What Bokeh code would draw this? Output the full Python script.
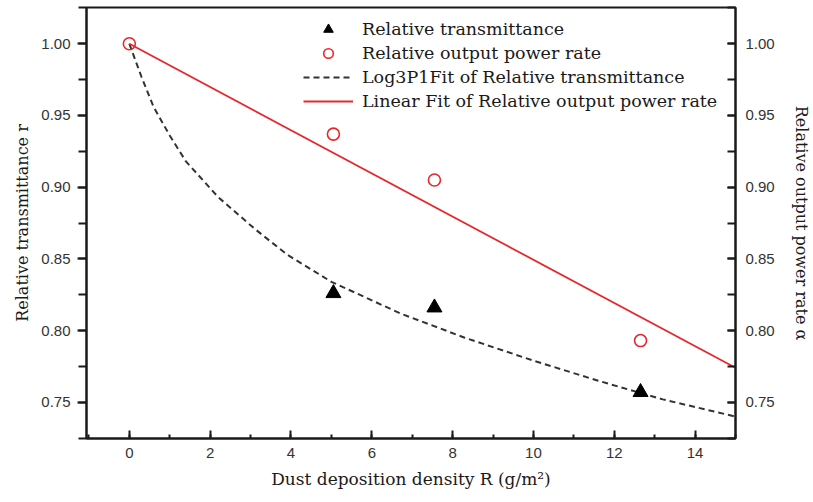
from bokeh.plotting import figure
from bokeh.models import (Range1d, LinearAxis, SingleIntervalTicker, PrintfTickFormatter,
                          Legend, LegendItem)
from bokeh.embed import file_html
from bokeh.resources import INLINE

# --- data ---
trans_density = [5.05, 7.55, 12.65]
rel_transmittance = [0.826, 0.816, 0.757]
power_density = [0.0, 5.05, 7.55, 12.65]
rel_output_power = [1.000, 0.937, 0.905, 0.793]

log_fit_x = [0.0, 0.3, 0.6, 1.0, 1.4, 2.2, 3.1, 3.9, 5.0, 6.7, 8.3, 10.0, 11.6, 13.2, 15.0]
log_fit_y = [1.000, 0.977, 0.956, 0.936, 0.918, 0.893, 0.871, 0.853, 0.834, 0.812, 0.795,
             0.779, 0.765, 0.752, 0.740]

lin_fit_x = [0.0, 15.0]
lin_fit_y = [1.000, 0.774]

legend_labels = ["Relative transmittance", "Relative output power rate",
                 "Log3P1Fit of Relative transmittance",
                 "Linear Fit of Relative output power rate"]

x_title = "Dust deposition density R (g/m\u00b2)"
y_left_title = "Relative transmittance r"
y_right_title = "Relative output power rate \u03b1"

RED = "#e8262b"
DARK = "#1a1a1a"
SERIF = "DejaVu Serif"
SANS = "Liberation Sans"

p = figure(width=813, height=502, x_range=Range1d(-1.06, 15.0), y_range=Range1d(0.7247, 1.0253),
           min_border_left=86, min_border_right=76, min_border_top=7, min_border_bottom=64,
           output_backend="svg", toolbar_location=None)
p.extra_y_ranges = {"right": Range1d(0.7247, 1.0253)}
p.xgrid.visible = False
p.ygrid.visible = False
p.outline_line_color = DARK
p.outline_line_width = 2
p.background_fill_color = "white"
p.border_fill_color = "white"

xa = p.xaxis[0]
xa.ticker = SingleIntervalTicker(interval=2, num_minor_ticks=2)
xa.major_tick_in = 8
xa.major_tick_out = 0
xa.minor_tick_in = 4
xa.minor_tick_out = 0
xa.major_label_standoff = 9
xa.axis_label = x_title
xa.axis_label_standoff = 8
xa.axis_label_text_font_size = "17px"

ya = p.yaxis[0]
ya.ticker = SingleIntervalTicker(interval=0.05, num_minor_ticks=2)
ya.formatter = PrintfTickFormatter(format="%.2f")
ya.major_tick_in = 0
ya.major_tick_out = 9
ya.minor_tick_in = 0
ya.minor_tick_out = 8
ya.major_label_standoff = 7
ya.axis_label = y_left_title
ya.axis_label_standoff = 6
ya.axis_label_text_font_size = "16px"

ra = LinearAxis(y_range_name="right",
                ticker=SingleIntervalTicker(interval=0.05, num_minor_ticks=2),
                formatter=PrintfTickFormatter(format="%.2f"))
ra.major_tick_in = 8
ra.major_tick_out = 0
ra.minor_tick_in = 8
ra.minor_tick_out = 0
ra.major_label_standoff = 10
ra.axis_label = y_right_title
ra.axis_label_standoff = 14
ra.axis_label_text_font_size = "16px"
p.add_layout(ra, "right")

for ax in (xa, ya, ra):
    ax.axis_line_color = DARK
    ax.axis_line_width = 2
    ax.major_tick_line_color = DARK
    ax.major_tick_line_width = 2
    ax.minor_tick_line_color = DARK
    ax.minor_tick_line_width = 2
    ax.major_label_text_font = SANS
    ax.major_label_text_font_size = "15px"
    ax.major_label_text_color = "#333333"
    ax.axis_label_text_font = SERIF
    ax.axis_label_text_font_style = "normal"
    ax.axis_label_text_color = DARK

r_logfit = p.line(log_fit_x, log_fit_y, line_color="#333333", line_width=2, line_dash="6 4")
r_linfit = p.line(lin_fit_x, lin_fit_y, line_color=RED, line_width=1.8)
r_tri = p.scatter(trans_density, rel_transmittance, marker="triangle", size=15,
                  fill_color="black", line_color="black")
r_circ = p.scatter(power_density, rel_output_power, marker="circle", size=12,
                   fill_color=None, line_color=RED, line_width=1.6)

legend = Legend(items=[LegendItem(label=legend_labels[0], renderers=[r_tri]),
                       LegendItem(label=legend_labels[1], renderers=[r_circ]),
                       LegendItem(label=legend_labels[2], renderers=[r_logfit]),
                       LegendItem(label=legend_labels[3], renderers=[r_linfit])],
                location=(217, 325), orientation="vertical",
                border_line_color=None, background_fill_alpha=0,
                glyph_width=50, glyph_height=24, label_height=24, spacing=0,
                padding=0, margin=0, label_standoff=9,
                label_text_font=SERIF, label_text_font_size="17.5px",
                label_text_color=DARK)
p.add_layout(legend)

open("out.html", "w").write(file_html(p, INLINE))
